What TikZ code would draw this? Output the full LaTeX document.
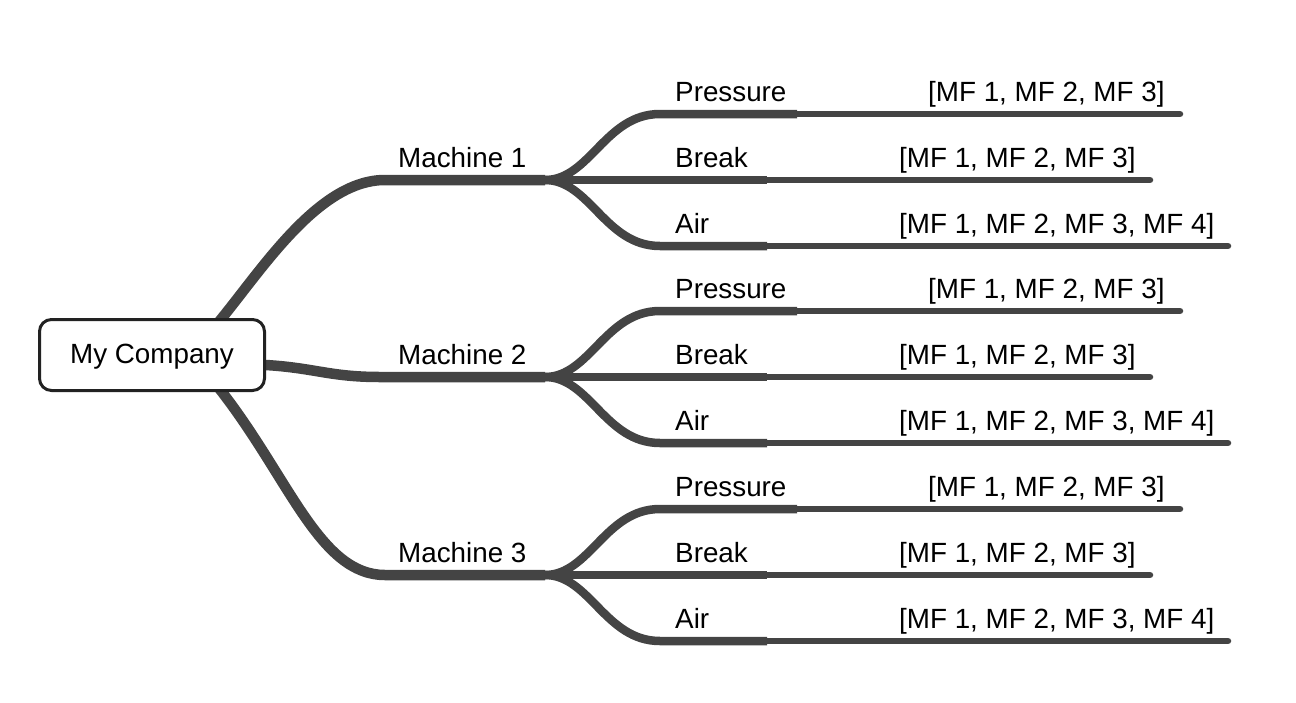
\documentclass[tikz,border=0pt]{standalone}
\usepackage{fontspec}
\setmainfont{Liberation Sans}
\definecolor{brc}{HTML}{444444}
\definecolor{bdc}{HTML}{222222}
\begin{document}
\begin{tikzpicture}[x=1pt,y=-1pt,
  branch/.style={draw=brc, line width=10.5pt},
  topic/.style={draw=brc, line width=8.5pt},
  ext/.style={draw=brc, line width=6.5pt, line cap=round},
  lbl/.style={anchor=base west, inner sep=0pt, font=\fontsize{27.8}{33}\selectfont},
  rootbox/.style={draw=bdc, line width=3pt, rounded corners=12pt, fill=white,
    minimum width=225pt, minimum height=71pt, inner sep=0pt,
    text height=20pt, text depth=4pt, font=\fontsize{27.8}{33}\selectfont}
]
\useasboundingbox (0,0) rectangle (1296,702);

% junction coordinates
\coordinate (r1) at (205,339);
\coordinate (r2) at (230,364);
\coordinate (r3) at (207,373);
\coordinate (m1) at (545,180);
\coordinate (m2) at (545,377);
\coordinate (m3) at (545,575);

% main branches
\draw[branch] (r1) -- (222,318) .. controls (265,265) and (320,180) .. (385,180) -- (m1);
\draw[branch] (r2) -- (266,365) .. controls (315,368) and (330,377) .. (380,377) -- (m2);
\draw[branch] (r3) -- (222,392) .. controls (290,480) and (320,575) .. (385,575) -- (m3);

% sub branches
\foreach \i/\y in {1/180,2/377,3/575}{
  \coordinate (pa\i) at (797,\y-66);
  \coordinate (pe\i) at (1180,\y-66);
  \coordinate (ba\i) at (767,\y);
  \coordinate (be\i) at (1150,\y);
  \coordinate (aa\i) at (767,\y+66);
  \coordinate (ae\i) at (1228,\y+66);
  \draw[topic] (m\i) .. controls (590,\y) and (605,\y-66) .. (660,\y-66) -- (pa\i);
  \draw[topic] (m\i) -- (ba\i);
  \draw[topic] (m\i) .. controls (590,\y) and (605,\y+66) .. (660,\y+66) -- (aa\i);
  \draw[ext] (pa\i) -- (pe\i);
  \draw[ext] (ba\i) -- (be\i);
  \draw[ext] (aa\i) -- (ae\i);
  \node[lbl] (mt\i) at (398,\y-13) {Machine \i};
  \node[lbl] (pt\i) at (675,\y-79) {Pressure};
  \node[lbl] (bt\i) at (675,\y-13) {Break};
  \node[lbl] (at\i) at (675,\y+53) {Air};
  \node[lbl] (pv\i) at (928,\y-79) {[MF 1, MF 2, MF 3]};
  \node[lbl] (bv\i) at (899,\y-13) {[MF 1, MF 2, MF 3]};
  \node[lbl] (av\i) at (899,\y+53) {[MF 1, MF 2, MF 3, MF 4]};
}

\node[rootbox] (root) at (152,355) {My Company};
\end{tikzpicture}
\end{document}
